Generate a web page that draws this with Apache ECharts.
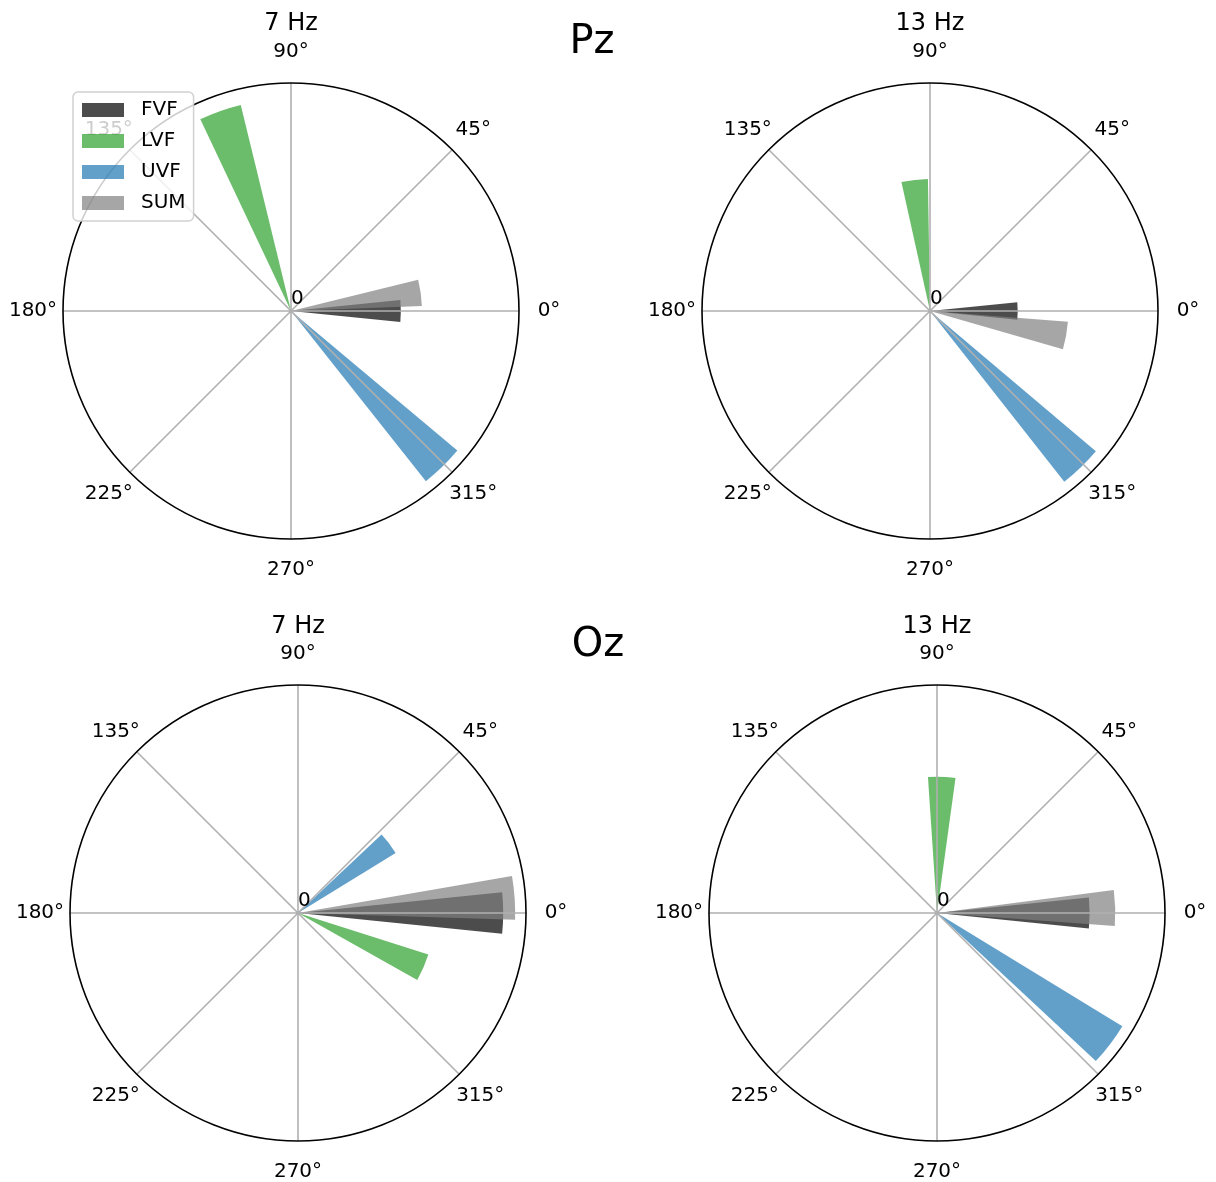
<!DOCTYPE html>
<html>
<head>
<meta charset="utf-8">
<script src="https://cdn.jsdelivr.net/npm/echarts@6/dist/echarts.min.js"></script>
<style>
html,body{margin:0;padding:0;background:#ffffff;}
#chart{width:1216px;height:1182px;}
</style>
</head>
<body>
<div id="chart"></div>
<script>
// ---------------- data ----------------
const seriesNames = ['FVF', 'LVF', 'UVF', 'SUM'];
const panelTitles = ['7 Hz', '13 Hz', '7 Hz', '13 Hz'];
const rowLabels = ['Pz', 'Oz'];
const angleTicks = [0, 45, 90, 135, 180, 225, 270, 315];
const barWidthDeg = 11.6;

// phase (degrees) and relative amplitude, order: FVF, LVF, UVF, SUM
const pz7Phase  = [0, 109.5, 314.2, 8.0];
const pz7Amp    = [0.506, 0.977, 1.0, 0.603];
const pz13Phase = [0, 96.7, 314.0, 349.7];
const pz13Amp   = [0.404, 0.608, 1.0, 0.637];
const oz7Phase  = [0, 336.5, 37.4, 4.0];
const oz7Amp    = [0.945, 0.630, 0.528, 1.0];
const oz13Phase = [0, 88.0, 322.8, 1.6];
const oz13Amp   = [0.703, 0.628, 1.0, 0.821];

const panelPhases = [pz7Phase, pz13Phase, oz7Phase, oz13Phase];
const panelAmps = [pz7Amp, pz13Amp, oz7Amp, oz13Amp];

// ---------------- style / layout ----------------
const seriesColors = ['rgba(0,0,0,0.7)', 'rgba(44,160,44,0.7)', 'rgba(31,119,180,0.7)', 'rgba(128,128,128,0.7)'];
const panelCenters = [[291, 311], [930, 311], [298, 913], [937, 913]];
const panelRadius = 228;
const titleY = [24, 24, 627, 627];
const rowLabelPos = [[592, 43], [598, 646]];
const FONT = 'DejaVu Sans';

// label boxes so that each tick label is centred ~30px outside the circle
const labelBox = {
  0:   { width: 60, pad: [0, 0, 0, 0] },
  45:  { width: 42, pad: [0, 0, 19, 0] },
  90:  { width: 60, pad: [0, 0, 42, 0] },
  135: { width: 42, pad: [0, 0, 19, 0] },
  180: { width: 60, pad: [0, 0, 0, 0] },
  225: { width: 42, pad: [23, 0, 0, 0] },
  270: { width: 60, pad: [42, 0, 0, 0] },
  315: { width: 42, pad: [23, 0, 0, 0] }
};
const rich = {};
angleTicks.forEach(t => {
  rich['t' + t] = {
    width: labelBox[t].width, align: 'center', lineHeight: 20, height: 20,
    padding: labelBox[t].pad, fontSize: 20, fontFamily: FONT, color: '#000'
  };
});

const polar = [], angleAxis = [], radiusAxis = [], series = [], title = [];

panelCenters.forEach((c, i) => {
  polar.push({ center: c, radius: panelRadius });
  angleAxis.push({
    polarIndex: i, type: 'value', min: 0, max: 360, interval: 45,
    startAngle: 0, clockwise: false, z: 3,
    axisLine: { show: true, lineStyle: { color: '#000', width: 1.6 } },
    axisTick: { show: false },
    axisLabel: {
      show: true, margin: 0, fontSize: 20, fontFamily: FONT, color: '#000', rich: rich,
      formatter: v => (angleTicks.indexOf(v) >= 0 ? '{t' + v + '|' + v + '°}' : '')
    },
    splitLine: { show: true, lineStyle: { color: '#b0b0b0', width: 1.6 } }
  });
  const maxAmp = Math.max.apply(null, panelAmps[i]);
  radiusAxis.push({
    polarIndex: i, type: 'value', min: 0, max: maxAmp * 1.05, z: 3,
    axisLine: { show: false }, axisTick: { show: false },
    splitLine: { show: false }, splitArea: { show: false },
    axisLabel: {
      show: true, fontSize: 20, fontFamily: FONT, color: '#000', margin: 2, align: 'left',
      formatter: v => (v === 0 ? '0' : '')
    }
  });
  seriesNames.forEach((name, k) => {
    series.push({
      type: 'custom', name: name, coordinateSystem: 'polar', polarIndex: i,
      itemStyle: { color: seriesColors[k] },
      data: [[panelAmps[i][k], panelPhases[i][k], barWidthDeg]],
      renderItem: (params, api) => {
        const r = api.value(0), a = api.value(1), w = api.value(2);
        const ctr = api.coord([0, a]);
        const p1 = api.coord([r, a - w / 2]);
        const p2 = api.coord([r, a + w / 2]);
        const rad = Math.hypot(p1[0] - ctr[0], p1[1] - ctr[1]);
        return {
          type: 'sector',
          shape: {
            cx: ctr[0], cy: ctr[1], r0: 0, r: rad,
            startAngle: Math.atan2(p1[1] - ctr[1], p1[0] - ctr[0]),
            endAngle: Math.atan2(p2[1] - ctr[1], p2[0] - ctr[0]),
            clockwise: false
          },
          style: { fill: api.visual('color') }
        };
      }
    });
  });
  title.push({
    text: panelTitles[i], left: c[0], top: titleY[i], padding: 0,
    textAlign: 'center', textVerticalAlign: 'middle',
    textStyle: { fontSize: 24, fontWeight: 'normal', fontFamily: FONT, color: '#000' }
  });
});

rowLabels.forEach((t, j) => {
  title.push({
    text: t, left: rowLabelPos[j][0], top: rowLabelPos[j][1], padding: 0,
    textAlign: 'center', textVerticalAlign: 'middle',
    textStyle: { fontSize: 40, fontWeight: 'normal', fontFamily: FONT, color: '#000' }
  });
});

const chart = echarts.init(document.getElementById('chart'), null, { renderer: 'canvas' });
chart.setOption({
  backgroundColor: '#ffffff',
  animation: false,
  title: title,
  polar: polar,
  angleAxis: angleAxis,
  radiusAxis: radiusAxis,
  legend: {
    data: seriesNames, orient: 'vertical', left: 73, top: 92,
    padding: [8, 8, 8, 9], itemWidth: 42, itemHeight: 14, itemGap: 11,
    icon: 'rect', selectedMode: false, z: 10,
    backgroundColor: 'rgba(255,255,255,0.8)',
    borderColor: 'rgba(204,204,204,0.9)', borderWidth: 1.5, borderRadius: 5,
    textStyle: { fontSize: 20, fontFamily: FONT, color: '#000', lineHeight: 20, padding: [0, 0, 0, 12] }
  },
  series: series
});
</script>
</body>
</html>
